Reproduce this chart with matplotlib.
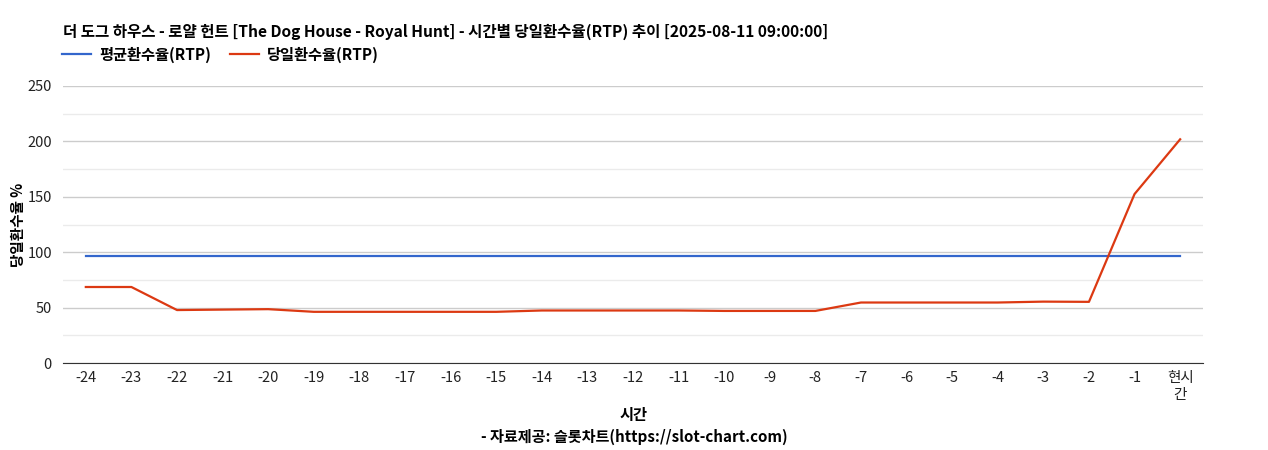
import matplotlib
matplotlib.use("Agg")
import matplotlib.pyplot as plt
from matplotlib.ticker import MultipleLocator

plt.rcParams['font.family'] = ['Noto Sans CJK KR', 'DejaVu Sans']

# 데이터
hours = ["-24", "-23", "-22", "-21", "-20", "-19", "-18", "-17", "-16", "-15",
         "-14", "-13", "-12", "-11", "-10", "-9", "-8", "-7", "-6", "-5",
         "-4", "-3", "-2", "-1", "현시\n간"]
avg_rtp = [96.2] * 25
day_rtp = [68.6, 68.6, 47.8, 48.2, 48.6, 46.2, 46.2, 46.2, 46.2, 46.2,
           47.4, 47.4, 47.4, 47.4, 47.0, 47.0, 47.0, 54.6, 54.6, 54.6,
           54.6, 55.4, 55.2, 152.5, 201.9]

fig = plt.figure(figsize=(12.68, 4.5), dpi=100)
ax = fig.add_axes([0.0497, 0.1933, 0.899, 0.6156])

x = list(range(len(hours)))
ax.plot(x, avg_rtp, color='#3366cc', lw=1.6, label='평균환수율(RTP)')
ax.plot(x, day_rtp, color='#dc3912', lw=1.6, label='당일환수율(RTP)')

ax.set_xlim(-0.5, len(hours) - 0.5)
ax.set_ylim(0, 250)
ax.yaxis.set_major_locator(MultipleLocator(50))
ax.yaxis.set_minor_locator(MultipleLocator(25))
ax.grid(which='major', axis='y', color='#cccccc', lw=1)
ax.grid(which='minor', axis='y', color='#ebebeb', lw=1)
ax.set_axisbelow(True)
ax.set_xticks(x)
ax.set_xticklabels(hours)
ax.tick_params(axis='both', which='both', length=0, labelsize=10.5, colors='#222222')
ax.tick_params(axis='x', pad=6)
ax.tick_params(axis='y', pad=8)
for s in ['top', 'right', 'left']:
    ax.spines[s].set_visible(False)
ax.spines['bottom'].set_color('#333333')

ax.set_ylabel('당일환수율 %', fontsize=10.5, fontweight='bold', labelpad=1)

fig.text(0.0497, 0.93, '더 도그 하우스 - 로얄 헌트 [The Dog House - Royal Hunt] - 시간별 당일환수율(RTP) 추이 [2025-08-11 09:00:00]',
         fontsize=11.2, fontweight='bold', va='center', ha='left')
fig.legend(loc='center left', bbox_to_anchor=(0.038, 0.878), ncol=2, frameon=False,
           handlelength=1.9, columnspacing=1.2, handletextpad=0.55,
           prop={'weight': 'bold', 'size': 11})
fig.text(0.5, 0.077, '시간', fontsize=11, fontweight='bold', ha='center', va='center')
fig.text(0.5, 0.029, '- 자료제공: 슬롯차트(https://slot-chart.com)', fontsize=10.9,
         fontweight='bold', ha='center', va='center')

fig.savefig('out.png', dpi=100)
